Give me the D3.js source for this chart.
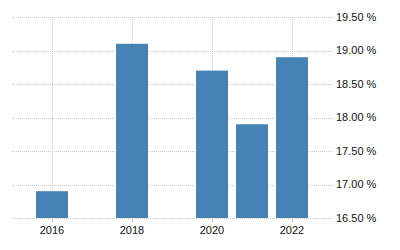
<!DOCTYPE html>
<html>
<head>
<meta charset="utf-8">
<script src="https://cdn.jsdelivr.net/npm/d3@7"></script>
<style>
  html, body { margin: 0; padding: 0; background: #fff; }
  svg { display: block; }
  text { font-family: Arial, "Liberation Sans", sans-serif; font-size: 11px; fill: #111; }
</style>
</head>
<body>
<svg id="chart" width="400" height="250"></svg>
<script>
const years = [2016, 2018, 2020, 2021, 2022];
const values = [16.9, 19.1, 18.7, 17.9, 18.9];
const xTicks = [2016, 2018, 2020, 2022];
const yTicks = [16.5, 17.0, 17.5, 18.0, 18.5, 19.0, 19.5];

const svg = d3.select("#chart");
const x = d3.scaleLinear().domain([2015, 2023]).range([12, 332]);
const y = d3.scaleLinear().domain([16.5, 19.5]).range([218, 17]);
const barW = 32;

// horizontal grid lines
svg.append("g").selectAll("line").data(yTicks).join("line")
  .attr("x1", 12).attr("x2", 333)
  .attr("y1", d => Math.round(y(d)) + 0.5).attr("y2", d => Math.round(y(d)) + 0.5)
  .attr("stroke", "#c8c8c8").attr("stroke-dasharray", "1,1")
  .attr("shape-rendering", "crispEdges");

// vertical grid lines
svg.append("g").selectAll("line").data(xTicks).join("line")
  .attr("x1", d => Math.round(x(d)) + 0.5).attr("x2", d => Math.round(x(d)) + 0.5)
  .attr("y1", y(19.5)).attr("y2", y(16.5))
  .attr("stroke", "#c8c8c8").attr("stroke-dasharray", "1,1")
  .attr("shape-rendering", "crispEdges");

// bars
svg.append("g").selectAll("rect").data(years).join("rect")
  .attr("x", d => Math.round(x(d) - barW / 2))
  .attr("width", barW)
  .attr("y", (d, i) => y(values[i]))
  .attr("height", (d, i) => y(16.5) - y(values[i]))
  .attr("fill", "#4682b4");

// x axis ticks
svg.append("g").selectAll("line").data(xTicks).join("line")
  .attr("x1", d => Math.round(x(d)) + 0.5).attr("x2", d => Math.round(x(d)) + 0.5)
  .attr("y1", y(16.5)).attr("y2", y(16.5) + 4)
  .attr("stroke", "#c8c8c8").attr("shape-rendering", "crispEdges");

// x labels
svg.append("g").selectAll("text").data(xTicks).join("text")
  .attr("x", d => x(d)).attr("y", 234)
  .attr("text-anchor", "middle")
  .text(d => d);

// y labels
svg.append("g").selectAll("text").data(yTicks).join("text")
  .attr("x", 336).attr("y", d => y(d))
  .attr("dy", "0.35em")
  .text(d => d3.format(".2f")(d) + " %");
</script>
</body>
</html>
